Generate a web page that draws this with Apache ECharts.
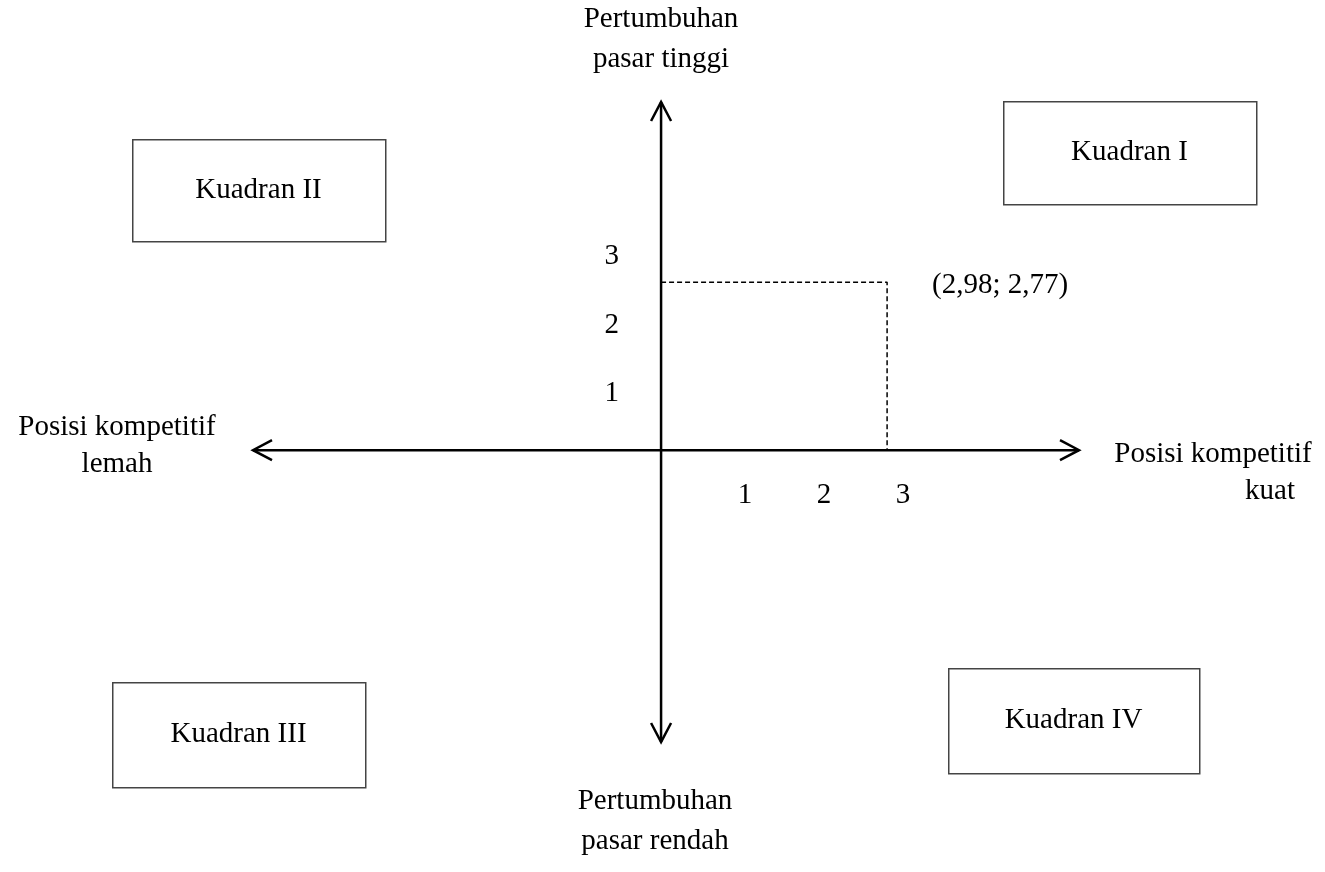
<!DOCTYPE html>
<html>
<head>
<meta charset="utf-8">
<script src="https://cdn.jsdelivr.net/npm/echarts@6/dist/echarts.min.js"></script>
<style>
  html, body { margin: 0; padding: 0; background: #fff; }
  #chart { width: 1325px; height: 872px; }
</style>
</head>
<body>
<div id="chart"></div>
<script>
// values
const point = [2.98, 2.77];
const xTickLabels = [1, 2, 3];
const yTickLabels = [1, 2, 3];
const xExtent = [-5.38, 5.51];
const yExtent = [-4.81, 5.74];
const quadrantNames = ['Kuadran I', 'Kuadran II', 'Kuadran III', 'Kuadran IV'];

const FONT = "'Liberation Serif', 'Times New Roman', serif";
const FS = 29;

var myChart = echarts.init(document.getElementById('chart'));

function renderAxis(params, api) {
  const a = api.coord([api.value(0), api.value(1)]);
  const b = api.coord([api.value(2), api.value(3)]);
  const dx = b[0] - a[0], dy = b[1] - a[1];
  const len = Math.hypot(dx, dy);
  const ux = dx / len, uy = dy / len;
  const nx = -uy, ny = ux;
  const head = (tip, dir) => [
    [tip[0] - dir * ux * 19 + nx * 10, tip[1] - dir * uy * 19 + ny * 10],
    tip,
    [tip[0] - dir * ux * 19 - nx * 10, tip[1] - dir * uy * 19 - ny * 10]
  ];
  const st = { stroke: '#000', lineWidth: 2.5, fill: 'none' };
  return {
    type: 'group',
    children: [
      { type: 'line', shape: { x1: a[0], y1: a[1], x2: b[0], y2: b[1] }, style: st },
      { type: 'polyline', shape: { points: head(b, 1) }, style: st },
      { type: 'polyline', shape: { points: head(a, -1) }, style: st }
    ]
  };
}

// quadrant boxes (layout in pixels)
const boxes = [
  { x: 1003, y: 101, w: 253, h: 103 },
  { x: 132, y: 139, w: 253, h: 102 },
  { x: 112, y: 682, w: 253, h: 105 },
  { x: 948, y: 668, w: 251, h: 105 }
];
const graphics = [];
boxes.forEach((b, i) => {
  graphics.push({
    type: 'rect', left: b.x, top: b.y,
    shape: { width: b.w, height: b.h },
    style: { fill: '#fff', stroke: '#444', lineWidth: 1.5 }
  });
  graphics.push({
    type: 'text', x: b.x + b.w / 2, y: b.y + b.h / 2,
    style: { text: quadrantNames[i], font: FS + 'px ' + FONT, fill: '#000', textAlign: 'center', textVerticalAlign: 'middle' }
  });
});
function title(text, x, y, lh) {
  return {
    type: 'text', x: x, y: y,
    style: { text: text, font: FS + 'px ' + FONT, lineHeight: lh, fill: '#000', textAlign: 'center', textVerticalAlign: 'top' }
  };
}
graphics.push(title('Pertumbuhan\npasar tinggi', 661, -1, 40));
graphics.push(title('Pertumbuhan\npasar rendah', 655, 781, 40));
graphics.push(title('Posisi kompetitif\nlemah', 117, 409, 37));
graphics.push(title('Posisi kompetitif', 1213, 436, 37));
graphics.push(title('kuat', 1270, 473, 37));

const labelFont = { fontFamily: FONT, fontSize: FS, color: '#000' };

myChart.setOption({
  backgroundColor: '#fff',
  animation: false,
  grid: { left: 253, right: 246, top: 102, bottom: 130 },
  xAxis: [
    { type: 'value', min: xExtent[0], max: xExtent[1], show: false },
    {
      type: 'value', min: -5.23, max: 5.23, position: 'bottom', offset: -292,
      axisLine: { show: false, onZero: false },
      axisTick: { show: false }, splitLine: { show: false },
      axisLabel: Object.assign({ customValues: xTickLabels, margin: 31 }, labelFont)
    }
  ],
  yAxis: [
    { type: 'value', min: yExtent[0], max: yExtent[1], show: false },
    {
      type: 'value', min: -4.09, max: 5.26, position: 'left', offset: -408,
      axisLine: { show: false, onZero: false },
      axisTick: { show: false }, splitLine: { show: false },
      axisLabel: Object.assign({ customValues: yTickLabels, margin: 42 }, labelFont)
    }
  ],
  graphic: graphics,
  series: [
    {
      type: 'line',
      xAxisIndex: 0, yAxisIndex: 0,
      data: [[0, point[1]], point, [point[0], 0]],
      symbol: 'none',
      lineStyle: { color: '#000', width: 1.5, type: [5, 3] },
      silent: true
    },
    {
      type: 'custom',
      xAxisIndex: 0, yAxisIndex: 0,
      renderItem: renderAxis,
      data: [[xExtent[0], 0, xExtent[1], 0], [0, yExtent[0], 0, yExtent[1]]],
      silent: true
    },
    {
      type: 'scatter',
      xAxisIndex: 0, yAxisIndex: 0,
      data: [point],
      symbolSize: 0,
      itemStyle: { opacity: 1, color: '#000' },
      label: {
        show: true, position: 'right', distance: 0, offset: [45, 3],
        fontFamily: FONT, fontSize: FS, color: '#000',
        formatter: p => '(' + String(p.value[0]).replace('.', ',') + '; ' + String(p.value[1]).replace('.', ',') + ')'
      }
    }
  ]
});
</script>
</body>
</html>
